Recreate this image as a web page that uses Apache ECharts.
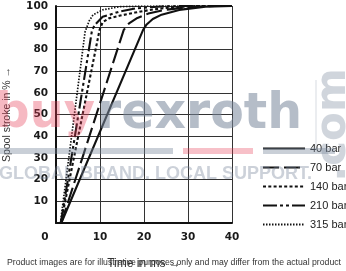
<!DOCTYPE html>
<html>
<head>
<meta charset="utf-8">
<script src="https://cdn.jsdelivr.net/npm/echarts@6/dist/echarts.min.js"></script>
<style>
html,body{margin:0;padding:0;background:#fff;}
#c{width:346px;height:271px;}
</style>
</head>
<body>
<div id="c"></div>
<script>
// ---- data (time in ms, spool stroke in %) ----
const seriesNames = ['40 bar', '70 bar', '140 bar', '210 bar', '315 bar'];
const xTicks = [0, 10, 20, 30, 40];
const yTicks = [0, 10, 20, 30, 40, 50, 60, 70, 80, 90, 100];

const t40  = [1.2, 19.8, 20.6, 22.0, 24.0, 28.0, 34.0, 40];
const s40  = [0,   89,   91.5, 94.0, 96.0, 98.2, 99.7, 100];

const t70  = [1.2, 15.4, 16.6, 18.5, 21.0, 25.0, 30.0, 36.0, 40];
const s70  = [0,   89,   92.0, 94.5, 96.5, 98.3, 99.4, 100,  100];

const t140 = [1.1, 9.9, 10.6, 12.0, 14.4, 18.0, 22.0, 27.0, 32.0, 40];
const s140 = [0,   89,  92.5, 94.3, 95.5, 97.0, 98.4, 99.5, 100,  100];

const t210 = [1.1, 8.2, 8.9, 10.6, 14.4, 18.0, 24.0, 30.0, 40];
const s210 = [0,   89,  91.5, 95.0, 97.4, 98.9, 99.8, 100, 100];

const t315 = [1.0, 6.6, 7.5, 8.4, 10.6, 14.4, 20.0, 40];
const s315 = [0,   88,  93.0, 95.9, 98.2, 99.7, 100, 100];

const times = [t40, t70, t140, t210, t315];
const strokes = [s40, s70, s140, s210, s315];
const dashes = ['solid', [16, 5], [3, 2.3], [14, 3, 3, 3, 3, 3], [1.5, 1.5]];
const widths = [2.1, 2.1, 2.1, 2.1, 1.7];

const chart = echarts.init(document.getElementById('c'), null, {renderer: 'canvas'});

const series = seriesNames.map((name, i) => ({
  name: name,
  type: 'line',
  symbol: 'none',
  smooth: false,
  data: times[i].map((t, k) => [t, strokes[i][k]]),
  lineStyle: {color: '#111', width: widths[i], type: dashes[i]},
  itemStyle: {color: '#111'},
  z: 3
}));

const tickFont = {fontFamily: 'DejaVu Sans', fontWeight: 'bold', fontSize: 10.5, color: '#1a1a1a'};
const wmGray = 'rgba(120,135,155,0.55)';
const wmPink = 'rgba(230,60,85,0.36)';

chart.setOption({
  animation: false,
  backgroundColor: '#fff',
  grid: {left: 56, right: 114, top: 6, bottom: 48, containLabel: false, outerBoundsMode: 'none'},
  legend: {
    data: seriesNames,
    orient: 'vertical',
    left: 257,
    top: 138,
    itemWidth: 42,
    itemHeight: 12,
    itemGap: 8,
    selectedMode: false,
    itemStyle: {opacity: 0, color: 'transparent', borderWidth: 0},
    textStyle: {fontFamily: 'Liberation Sans', fontSize: 11, color: '#222', padding: [0, 0, 0, 0]}
  },
  xAxis: {
    type: 'value',
    min: xTicks[0],
    max: xTicks[xTicks.length - 1],
    interval: 10,
    name: 'Time in ms \u2192',
    nameLocation: 'middle',
    nameGap: 35,
    nameTextStyle: {fontFamily: 'Liberation Sans', fontSize: 12, color: '#333'},
    axisLine: {lineStyle: {color: '#111', width: 2}},
    axisTick: {show: false},
    splitLine: {show: true, lineStyle: {color: '#333', width: 1}},
    axisLabel: Object.assign({}, tickFont, {
      margin: 9,
      formatter: v => (v === 0 ? '{z|0}' : String(v)),
      rich: {z: Object.assign({}, tickFont, {padding: [0, 22, 0, 0]})}
    })
  },
  yAxis: {
    type: 'value',
    min: yTicks[0],
    max: yTicks[yTicks.length - 1],
    interval: 10,
    name: 'Spool stroke in % \u2192',
    nameLocation: 'middle',
    nameRotate: 90,
    nameGap: 43,
    nameTextStyle: {fontFamily: 'Liberation Sans', fontSize: 10.5, color: '#333'},
    axisLine: {show: true, lineStyle: {color: '#111', width: 2}},
    axisTick: {show: false},
    splitLine: {show: true, lineStyle: {color: '#333', width: 1}},
    axisLabel: Object.assign({}, tickFont, {
      margin: 8,
      formatter: v => (v === 0 ? '' : String(v))
    })
  },
  graphic: [
    {type: 'text', z: 100, style: {text: 'buy', x: 95, y: 115, align: 'right', verticalAlign: 'middle',
      font: 'bold 48px "DejaVu Sans"', fill: wmPink}},
    {type: 'text', z: 100, style: {text: 'rexroth', x: 97, y: 115, align: 'left', verticalAlign: 'middle',
      font: 'bold 49px "DejaVu Sans"', fill: wmGray}},
    {type: 'text', z: 100, x: 334, y: 125, rotation: Math.PI / 2,
      style: {text: '.com', x: 0, y: 0, align: 'center', verticalAlign: 'middle',
      font: 'bold 42px "DejaVu Sans"', fill: 'rgba(120,135,155,0.35)'}},
    {type: 'line', z: 100, shape: {x1: 316, y1: 80, x2: 316, y2: 150}, style: {stroke: 'rgba(120,135,155,0.3)', lineWidth: 1}},
    {type: 'rect', z: 100, shape: {x: 0, y: 148, width: 173, height: 6}, style: {fill: 'rgba(120,135,155,0.4)'}},
    {type: 'rect', z: 100, shape: {x: 183, y: 148, width: 70, height: 6}, style: {fill: 'rgba(230,60,85,0.32)'}},
    {type: 'rect', z: 100, shape: {x: 263, y: 148, width: 72, height: 6}, style: {fill: 'rgba(120,135,155,0.4)'}},
    {type: 'text', z: 100, style: {text: 'GLOBAL BRAND. LOCAL SUPPORT.', x: -1, y: 174, align: 'left', verticalAlign: 'middle',
      font: 'bold 18px "Liberation Sans"', fill: 'rgba(120,135,155,0.38)'}},
    {type: 'text', z: 101, style: {text: 'Product images are for illustrative purposes only and may differ from the actual product',
      x: 7, y: 263, align: 'left', verticalAlign: 'middle', font: '8.7px "Liberation Sans"', fill: '#333'}}
  ],
  series: series
});
</script>
</body>
</html>
